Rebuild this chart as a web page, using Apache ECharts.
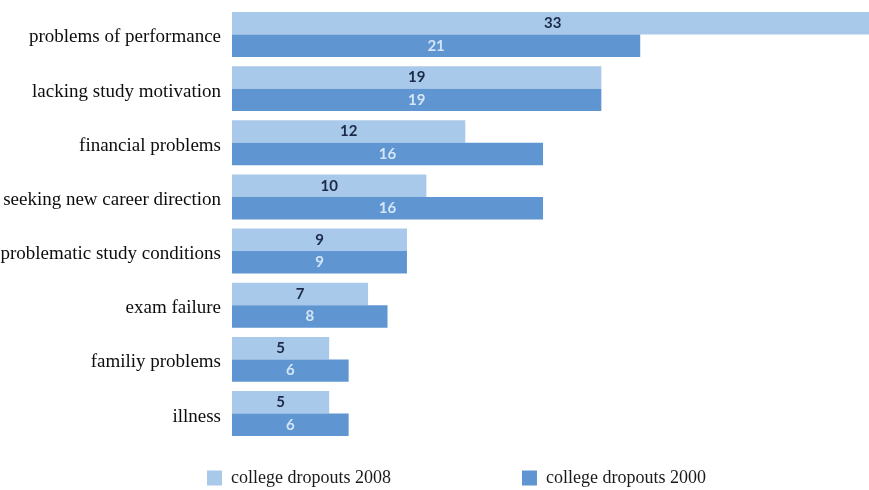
<!DOCTYPE html>
<html>
<head>
<meta charset="utf-8">
<script src="https://cdn.jsdelivr.net/npm/echarts@6/dist/echarts.min.js"></script>
<style>
  html, body { margin: 0; padding: 0; background: #fff; }
  #main { width: 869px; height: 490px; }
</style>
</head>
<body>
<div id="main"></div>
<script>
var categories = ['problems of performance', 'lacking study motivation', 'financial problems',
    'seeking new career direction', 'problematic study conditions', 'exam failure',
    'familiy problems', 'illness'];
var dropouts2008 = [33, 19, 12, 10, 9, 7, 5, 5];
var dropouts2000 = [21, 19, 16, 16, 9, 8, 6, 6];

var chart = echarts.init(document.getElementById('main'));
var option = {
    animation: false,
    grid: {
        left: 232,
        right: -4.5,
        top: 7.4,
        bottom: 49.4,
        outerBoundsMode: 'none'
    },
    legend: {
        top: 464,
        left: 202,
        itemGap: 131,
        itemWidth: 15,
        itemHeight: 15,
        icon: 'rect',
        textStyle: {
            fontFamily: 'Liberation Serif',
            fontSize: 18,
            color: '#1a1a1a',
            padding: [0, 0, 0, 4]
        },
        data: ['college dropouts 2008', 'college dropouts 2000']
    },
    xAxis: {
        type: 'value',
        min: 0,
        max: 33,
        show: false
    },
    yAxis: {
        type: 'category',
        inverse: true,
        data: categories,
        axisLine: { show: false },
        axisTick: { show: false },
        axisLabel: {
            margin: 11,
            formatter: '{a|{value}}',
            rich: {
                a: {
                    padding: [6, 0, 0, 0],
                    fontFamily: 'Liberation Serif',
                    fontSize: 19,
                    color: '#0d0d0d'
                }
            },
            fontFamily: 'Liberation Serif',
            fontSize: 19,
            color: '#0d0d0d'
        }
    },
    series: [
        {
            name: 'college dropouts 2008',
            type: 'bar',
            data: dropouts2008,
            barGap: '0%',
            barCategoryGap: '17%',
            itemStyle: { color: '#a8c9e9' },
            label: {
                show: true,
                position: 'inside',
                fontFamily: 'Lato',
                fontWeight: 'bold',
                fontSize: 15,
                color: '#1c2a4a'
            }
        },
        {
            name: 'college dropouts 2000',
            type: 'bar',
            data: dropouts2000,
            barGap: '0%',
            barCategoryGap: '17%',
            itemStyle: { color: '#5f95d0' },
            label: {
                show: true,
                position: 'inside',
                fontFamily: 'Lato',
                fontWeight: 'bold',
                fontSize: 15,
                color: '#d3e5f6'
            }
        }
    ]
};
chart.setOption(option);
</script>
</body>
</html>
